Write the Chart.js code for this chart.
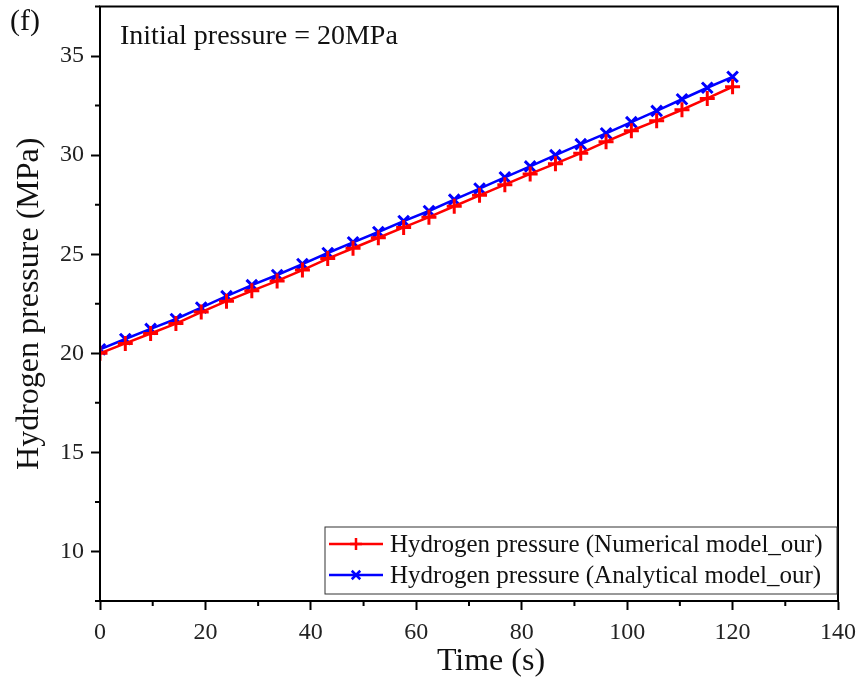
<!DOCTYPE html>
<html>
<head>
<meta charset="utf-8">
<script src="https://cdn.jsdelivr.net/npm/chart.js@4/dist/chart.umd.min.js"></script>
<style>
  html, body { margin: 0; padding: 0; background: #fff; overflow: hidden; }
  canvas { display: block; margin-top: -4px; }
</style>
</head>
<body>
<canvas id="pressureChart" width="860" height="690"></canvas>
<script>
// Time (s)
const times = [0, 4.8, 9.6, 14.4, 19.2, 24, 28.8, 33.6, 38.4, 43.2, 48, 52.8, 57.6,
  62.4, 67.2, 72, 76.8, 81.6, 86.4, 91.2, 96, 100.8, 105.6, 110.4, 115.2, 120];

// Hydrogen pressure (MPa)
const numerical = [20.0, 20.5, 21.0, 21.5, 22.08, 22.63, 23.15, 23.65, 24.2, 24.78, 25.3, 25.83, 26.35,
  26.87, 27.42, 27.97, 28.51, 29.05, 29.57, 30.1, 30.68, 31.23, 31.74, 32.29, 32.86, 33.45];
const analytical = [20.2, 20.72, 21.23, 21.73, 22.31, 22.88, 23.44, 23.95, 24.5, 25.06, 25.6, 26.12, 26.67,
  27.18, 27.75, 28.31, 28.88, 29.43, 30.0, 30.55, 31.1, 31.66, 32.23, 32.82, 33.4, 33.95];

const xTicks = [0, 20, 40, 60, 80, 100, 120, 140];
const xMinor = [10, 30, 50, 70, 90, 110, 130];
const yTicks = [10, 15, 20, 25, 30, 35];
const yMinor = [7.5, 12.5, 17.5, 22.5, 27.5, 32.5, 37.5];

const serif = '"Liberation Serif", "Times New Roman", serif';
const shift = 4; // canvas is pulled up by this much

// frame, minor ticks, x title, panel label, note and legend box
const extras = {
  id: 'extras',
  afterDraw(chart) {
    const ctx = chart.ctx;
    const a = chart.chartArea;
    const xs = chart.scales.x, ys = chart.scales.y;
    ctx.save();
    ctx.strokeStyle = '#000';
    ctx.lineWidth = 2;
    ctx.strokeRect(a.left, a.top, a.right - a.left, a.bottom - a.top);

    ctx.beginPath();
    xMinor.forEach(v => {
      const px = xs.getPixelForValue(v);
      ctx.moveTo(px, a.bottom);
      ctx.lineTo(px, a.bottom + 5);
    });
    yMinor.forEach(v => {
      const py = ys.getPixelForValue(v);
      ctx.moveTo(a.left, py);
      ctx.lineTo(a.left - 5, py);
    });
    ctx.stroke();

    ctx.translate(0, shift);
    ctx.fillStyle = '#111';
    ctx.textBaseline = 'middle';
    ctx.textAlign = 'center';
    ctx.font = '32px ' + serif;
    ctx.fillText('Time (s)', 491, 662);

    ctx.textAlign = 'left';
    ctx.font = '30px ' + serif;
    ctx.fillText('(f)', 10, 22);
    ctx.font = '28px ' + serif;
    ctx.fillText('Initial pressure = 20MPa', 120, 37);

    // legend
    const lx = 325, ly = 527, lw = 512, lh = 67;
    ctx.fillStyle = '#fff';
    ctx.fillRect(lx, ly, lw, lh);
    ctx.strokeStyle = '#333';
    ctx.lineWidth = 1;
    ctx.strokeRect(lx, ly, lw, lh);
    chart.data.datasets.forEach((ds, i) => {
      const cy = ly + 17 + i * 31;
      ctx.strokeStyle = ds.borderColor;
      ctx.lineWidth = 2.5;
      ctx.beginPath();
      ctx.moveTo(lx + 4, cy);
      ctx.lineTo(lx + 58, cy);
      ctx.stroke();
      Chart.helpers.drawPoint(ctx, {
        pointStyle: ds.pointStyle, radius: 6, borderWidth: 2.5, rotation: 0
      }, lx + 31, cy);
      ctx.fillStyle = '#111';
      ctx.font = '25px ' + serif;
      ctx.fillText(ds.label, lx + 65, cy + 1);
    });
    ctx.restore();
  }
};

new Chart(document.getElementById('pressureChart').getContext('2d'), {
  type: 'line',
  data: {
    datasets: [
      {
        label: 'Hydrogen pressure (Numerical model_our)',
        data: times.map((t, i) => ({ x: t, y: numerical[i] })),
        borderColor: '#ff0000',
        backgroundColor: '#ff0000',
        borderWidth: 2.5,
        pointStyle: 'cross',
        pointRadius: 7.5,
        pointBorderWidth: 3,
        pointBorderColor: '#ff0000'
      },
      {
        label: 'Hydrogen pressure (Analytical model_our)',
        data: times.map((t, i) => ({ x: t, y: analytical[i] })),
        borderColor: '#0000ff',
        backgroundColor: '#0000ff',
        borderWidth: 2.5,
        pointStyle: 'crossRot',
        pointRadius: 7.5,
        pointBorderWidth: 3,
        pointBorderColor: '#0000ff'
      }
    ]
  },
  options: {
    responsive: false,
    animation: false,
    layout: { padding: { top: 2, right: 22, left: 0, bottom: 0 } },
    plugins: {
      legend: { display: false },
      tooltip: { enabled: false }
    },
    scales: {
      x: {
        type: 'linear',
        min: 0,
        max: 140,
        afterBuildTicks: s => { s.ticks = xTicks.map(v => ({ value: v })); },
        afterFit: s => { s.height = 85; s.paddingLeft = 0; s.paddingRight = 0; },
        grid: { drawOnChartArea: false, tickLength: 9, tickWidth: 2, tickColor: '#000' },
        border: { color: '#000', width: 2 },
        ticks: { color: '#222', font: { family: serif, size: 24 }, padding: 8, maxRotation: 0 },
        title: { display: false }
      },
      y: {
        min: 7.5,
        max: 37.5,
        afterBuildTicks: s => { s.ticks = yTicks.map(v => ({ value: v })); },
        afterFit: s => { s.width = 100; s.paddingTop = 0; s.paddingBottom = 0; },
        grid: { drawOnChartArea: false, tickLength: 9, tickWidth: 2, tickColor: '#000' },
        border: { color: '#000', width: 2 },
        ticks: { color: '#222', font: { family: serif, size: 24 }, padding: 7 },
        title: { display: true, text: 'Hydrogen pressure (MPa)', color: '#111', font: { family: serif, size: 32 }, padding: { top: 10, bottom: 0 } }
      }
    }
  },
  plugins: [extras]
});
</script>
</body>
</html>
